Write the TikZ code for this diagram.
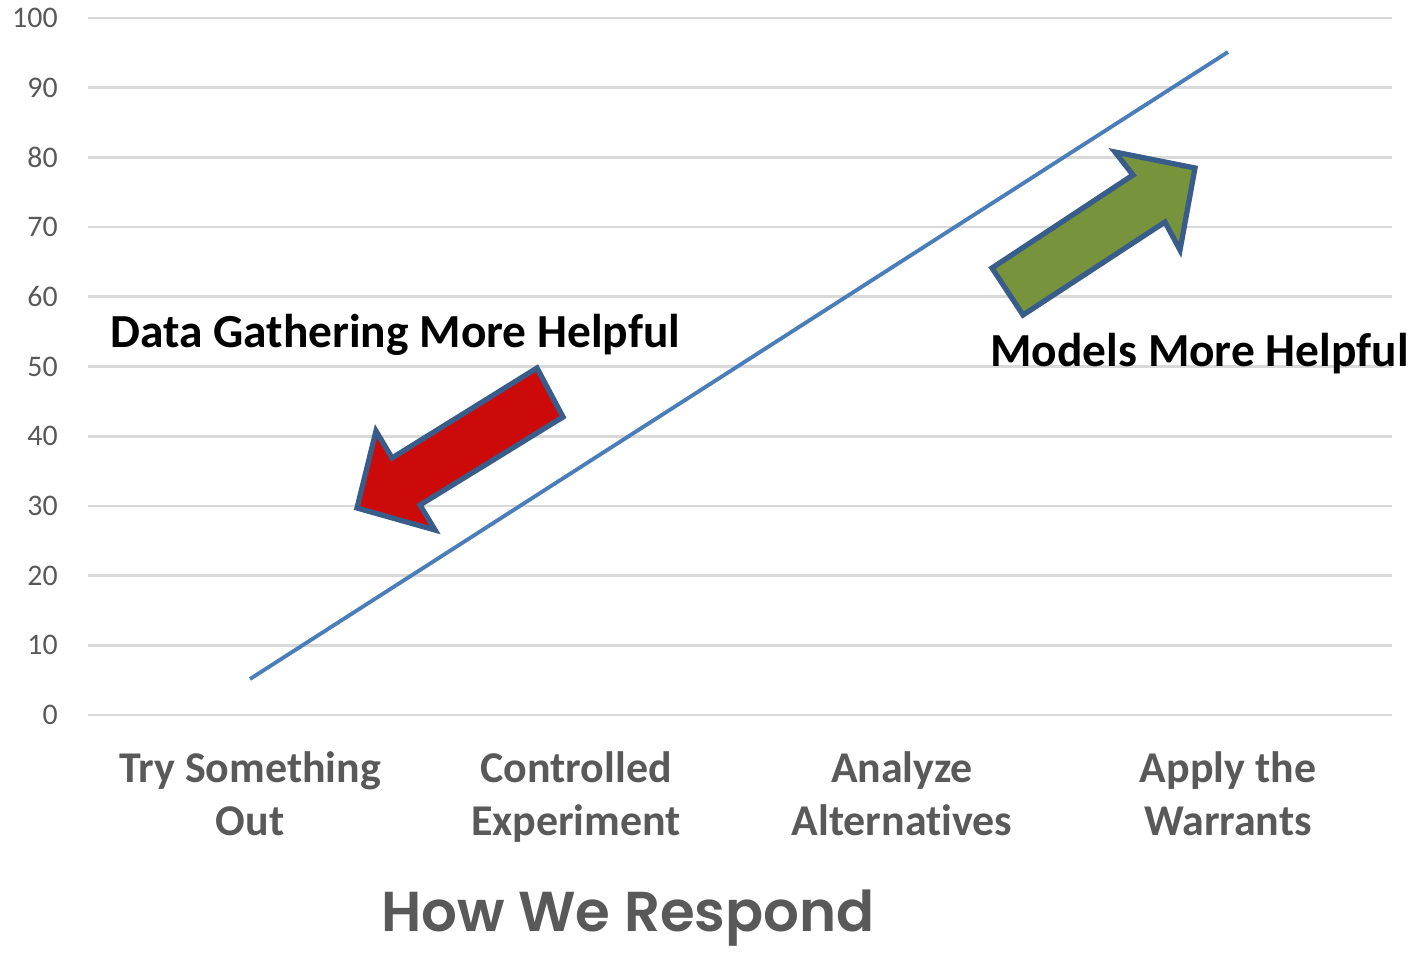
\documentclass[tikz,border=0pt]{standalone}
\usepackage{fontspec}
\setmainfont{Carlito}[Ligatures=NoCommon]
\newfontfamily\titlefont{Poppins SemiBold}
\definecolor{axisgray}{RGB}{89, 89, 89}
\definecolor{gridgray}{RGB}{217, 217, 217}
\definecolor{trendblue}{RGB}{74, 126, 187}
\definecolor{edgeblue}{RGB}{56, 93, 138}
\definecolor{datared}{RGB}{204, 10, 10}
\definecolor{modelgreen}{RGB}{119, 147, 60}
\usetikzlibrary{positioning, calc}

\begin{document}
\begin{tikzpicture}[x=0.02cm, y=-0.02cm,
  ticklabel/.style={anchor=east, font=\fontsize{17}{20}\selectfont, text=axisgray, inner sep=0pt},
  catlabel/.style={align=center, anchor=north, inner sep=0pt, font=\fontsize{25}{30.5}\selectfont\bfseries, text=axisgray},
  callout/.style={anchor=west, font=\fontsize{27}{30}\selectfont\bfseries, inner sep=0pt},
  bigarrow/.style={draw=edgeblue, line width=3pt, line join=miter}]
  \useasboundingbox (0, 0) rectangle (1416, 953);

  % Grid and axis values
  \foreach \v in {0, 10, ..., 100} {
    \draw[gridgray, line width=1.5pt] (88, {715 - 6.97*\v}) -- (1392, {715 - 6.97*\v});
    \node[ticklabel] (tick\v) at (58, {715 - 6.97*\v}) {\v};
  }

  % Trend line
  \coordinate (start) at (250, 679);
  \coordinate (finish) at (1228, 52);
  \draw[trendblue, line width=2.2pt] (start) -- (finish);

  % Category labels
  \node[catlabel] (try) at (250, 751) {Try Something\\Out};
  \node[catlabel] (control) at (576, 751) {Controlled\\Experiment};
  \node[catlabel] (analyze) at (902, 751) {Analyze\\Alternatives};
  \node[catlabel] (apply) at (1228, 751) {Apply the\\Warrants};

  % Axis title
  \node[font=\titlefont\fontsize{32}{36}\selectfont, text=axisgray] (axtitle) at (628, 918) {How We Respond};

  % Data gathering arrow
  \draw[bigarrow, fill=datared] (357, 508) -- (376, 431) -- (392, 458) -- (537, 368) -- (563, 417) -- (420, 505) -- (435, 530) -- cycle;
  \node[callout] (datanote) at (110, 335) {Data Gathering More Helpful};

  % Models arrow
  \draw[bigarrow, fill=modelgreen] (992, 268) -- (1133, 175) -- (1115, 152) -- (1195, 168) -- (1180, 250) -- (1165, 222) -- (1023, 315) -- cycle;
  \node[callout] (modelnote) at (990, 354) {Models More Helpful};
\end{tikzpicture}
\end{document}
